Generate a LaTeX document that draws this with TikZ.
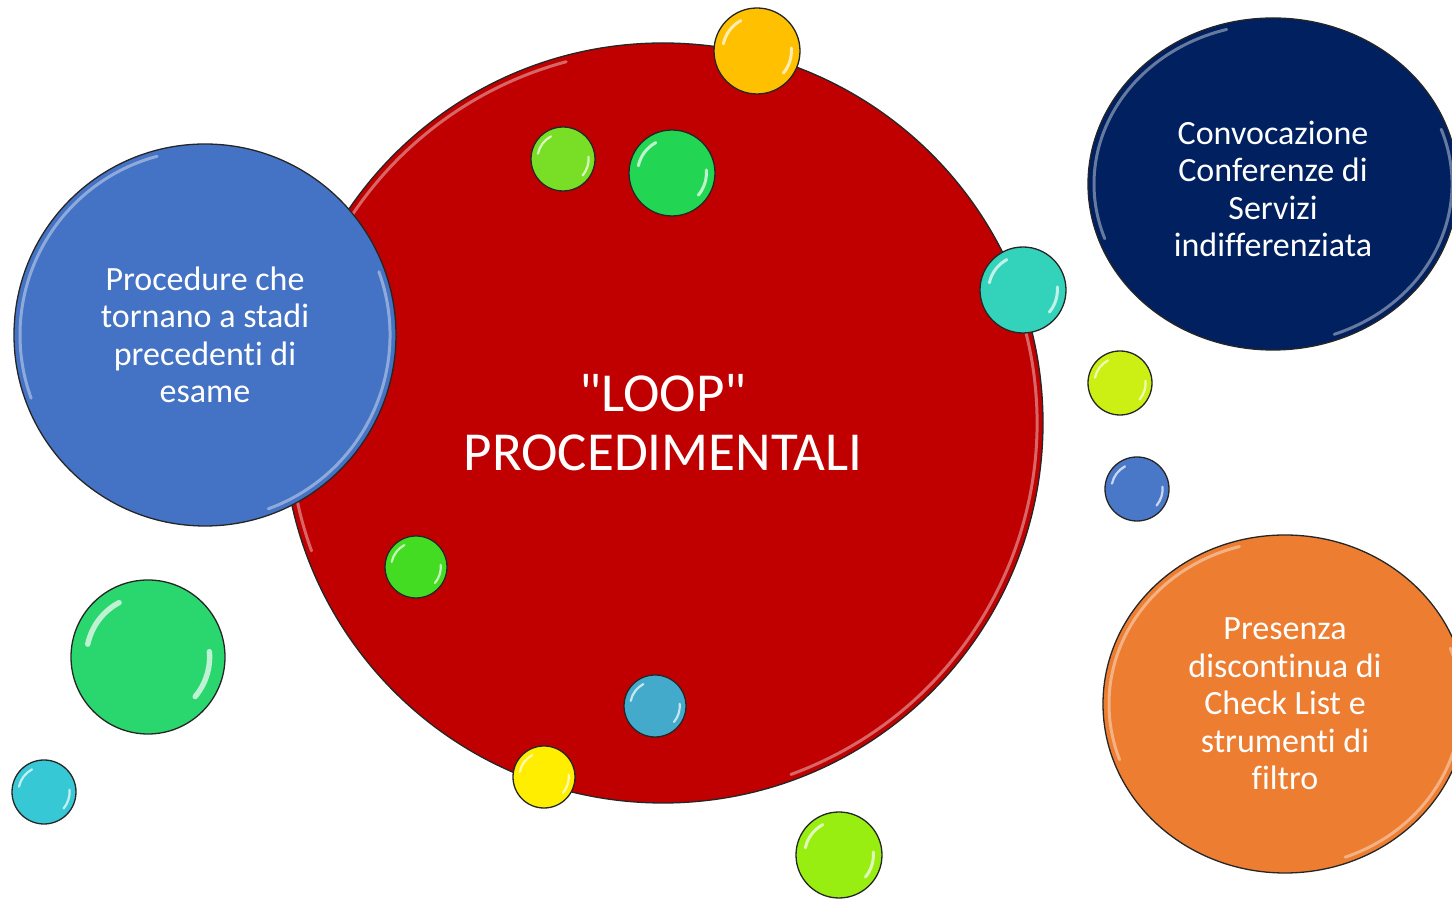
\documentclass[tikz,border=0pt]{standalone}
\usepackage{fontspec}
\setmainfont{Carlito}[Ligatures={TeXOff,CommonOff}]
\usetikzlibrary{calc,shapes.geometric}
\definecolor{cRed}{HTML}{C00000}
\definecolor{cBlue}{HTML}{4472C4}
\definecolor{cNavy}{HTML}{002060}
\definecolor{cOrange}{HTML}{ED7D31}
\definecolor{cGold}{HTML}{FFC000}
\definecolor{cLime}{HTML}{78DE26}
\definecolor{cGreen}{HTML}{22D552}
\definecolor{cTeal}{HTML}{33D2BA}
\definecolor{cYG}{HTML}{CCF014}
\definecolor{cSBlue}{HTML}{4A78C8}
\definecolor{cGreen2}{HTML}{44DC22}
\definecolor{cBigGreen}{HTML}{2AD66E}
\definecolor{cCyan}{HTML}{36C8D4}
\definecolor{cBTeal}{HTML}{44AACC}
\definecolor{cYellow}{HTML}{FFEE00}
\definecolor{cYG2}{HTML}{99EE11}
\tikzset{
  glossC/.style={path picture={
    \draw[white,opacity=.7,line width={0.07*#1*1pt},line cap=round]
      ($(path picture bounding box.center)+(118:{0.8*#1*1pt})$)
      arc[start angle=118,end angle=168,radius={0.8*#1*1pt}];
    \draw[white,opacity=.7,line width={0.07*#1*1pt},line cap=round]
      ($(path picture bounding box.center)+(-40:{0.8*#1*1pt})$)
      arc[start angle=-40,end angle=5,radius={0.8*#1*1pt}];
  }},
  glossB/.style={path picture={
    \draw[white,opacity=.4,line width=3pt,line cap=round]
      ($(path picture bounding box.center)+(105:{(#1-6)*1pt})$)
      arc[start angle=105,end angle=200,radius={(#1-6)*1pt}];
    \draw[white,opacity=.4,line width=3pt,line cap=round]
      ($(path picture bounding box.center)+(-70:{(#1-6)*1pt})$)
      arc[start angle=-70,end angle=20,radius={(#1-6)*1pt}];
  }},
  glossE/.style 2 args={path picture={
    \draw[white,opacity=.4,line width=3pt,line cap=round]
      ($(path picture bounding box.center)+({(#1-6)*cos(105)*1pt},{(#2-6)*sin(105)*1pt})$)
      arc[start angle=105,end angle=200,x radius={(#1-6)*1pt},y radius={(#2-6)*1pt}];
    \draw[white,opacity=.4,line width=3pt,line cap=round]
      ($(path picture bounding box.center)+({(#1-6)*cos(-70)*1pt},{(#2-6)*sin(-70)*1pt})$)
      arc[start angle=-70,end angle=20,x radius={(#1-6)*1pt},y radius={(#2-6)*1pt}];
  }},
  bub/.style 2 args={circle,draw=black!85,line width=1.3pt,inner sep=0pt,
    minimum size={2*#1*1pt},fill=#2,glossC=#1},
  bigc/.style 2 args={circle,draw=black!85,line width=1.3pt,inner sep=0pt,
    minimum size={2*#1*1pt},fill=#2,glossB=#1,text=white,align=center},
  bige/.style n args={3}{ellipse,draw=black!85,line width=1.3pt,inner sep=0pt,
    minimum width={2*#1*1pt},minimum height={2*#2*1pt},fill=#3,glossE={#1}{#2},
    text=white,align=center},
  lbl/.style={font=\fontsize{34}{37.5}\selectfont},
  mainlbl/.style={font=\fontsize{55}{59}\selectfont},
}
\begin{document}
\begin{tikzpicture}[x=1pt,y=1pt]
\useasboundingbox (0,0) rectangle (1452,899);
\fill[white] (0,0) rectangle (1452,899);
\clip (0,0) rectangle (1452,899);
% main circle
\node[bigc={380}{cRed},mainlbl] (loop) at (663,476) {"LOOP"\\PROCEDIMENTALI};
% big satellites
\node[bigc={191}{cBlue},lbl] (proc) at (205,564) {Procedure che\\tornano a stadi\\precedenti di\\esame};
\node[bige={185}{166}{cNavy}] (conv) at (1273,715) {};
\node[lbl,text=white,align=center,inner sep=0pt] (convt) at ($(conv.center)+(0,-5)$) {Convocazione\\Conferenze di\\Servizi\\indifferenziata};
\node[bige={182}{169}{cOrange},lbl] (pres) at (1285,195) {Presenza\\discontinua di\\Check List e\\strumenti di\\filtro};
% small bubbles
\node[bub={43}{cGold}] (b1) at (757,848) {};
\node[bub={32}{cLime}] (b2) at (563,740) {};
\node[bub={43}{cGreen}] (b3) at (672,726) {};
\node[bub={43}{cTeal}] (b4) at (1023,609) {};
\node[bub={32}{cYG}] (b5) at (1120,516) {};
\node[bub={32}{cSBlue}] (b6) at (1137,410) {};
\node[bub={31}{cGreen2}] (b7) at (416,332) {};
\node[bub={77}{cBigGreen}] (b8) at (148,242) {};
\node[bub={32}{cCyan}] (b9) at (44,107) {};
\node[bub={31}{cBTeal}] (b10) at (655,193) {};
\node[bub={31}{cYellow}] (b11) at (544,122) {};
\node[bub={43}{cYG2}] (b12) at (839,44) {};
\end{tikzpicture}
\end{document}
